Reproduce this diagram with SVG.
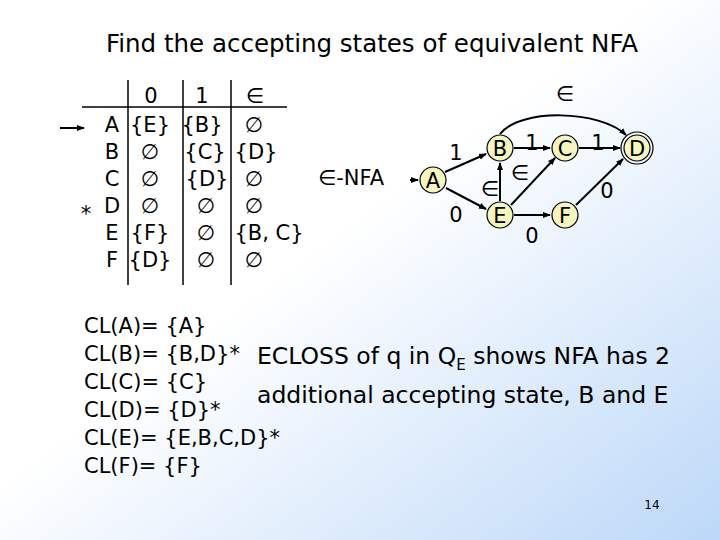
<svg xmlns="http://www.w3.org/2000/svg" width="720" height="540" viewBox="0 0 720 540">
<defs>
<linearGradient id="bg" x1="0" y1="0" x2="1" y2="1"><stop offset="0" stop-color="#ffffff"/><stop offset="0.45" stop-color="#ffffff"/><stop offset="1" stop-color="#bcd8f8"/></linearGradient>
<marker id="ar" markerWidth="8" markerHeight="8" refX="7" refY="4" orient="auto" markerUnits="userSpaceOnUse"><path d="M0,1 L8,4 L0,7 z" fill="#000"/></marker>
<style>
text{font-family:"DejaVu Sans",Verdana,sans-serif;fill:#000}
.t{font-size:21px}
.b{font-size:23.5px}
.ln{stroke:#000;stroke-width:1.5;fill:none}
.e{stroke:#000;stroke-width:2;fill:none;marker-end:url(#ar)}
.n{fill:#f5f5c0;stroke:#000;stroke-width:1.2}
</style>
</defs>
<rect width="720" height="540" fill="url(#bg)"/>
<text x="372" y="52" class="t" font-size="24.5" text-anchor="middle" style="font-size:24.5px">Find the accepting states of equivalent NFA</text>
<g id="table">
<line class="ln" x1="82" y1="107" x2="287" y2="107"/>
<line class="ln" x1="128" y1="80" x2="128" y2="285"/>
<line class="ln" x1="183" y1="80" x2="183" y2="285"/>
<line class="ln" x1="231" y1="80" x2="231" y2="285"/>
<line x1="60" y1="128" x2="84" y2="128" stroke="#000" stroke-width="2" marker-end="url(#ar)"/>
<g class="t" text-anchor="middle">
<text x="151" y="103">0</text><text x="202" y="103">1</text><text x="255" y="103">∈</text>
<text x="112" y="132">A</text><text x="150" y="132">{E}</text><text x="202" y="132">{B}</text><text x="254" y="132">∅</text>
<text x="112" y="159">B</text><text x="150" y="159">∅</text><text x="205" y="159">{C}</text><text x="256" y="159">{D}</text>
<text x="112" y="186">C</text><text x="150" y="186">∅</text><text x="207" y="186">{D}</text><text x="254" y="186">∅</text>
<text x="86" y="221">*</text>
<text x="112" y="213">D</text><text x="150" y="213">∅</text><text x="206" y="213">∅</text><text x="254" y="213">∅</text>
<text x="112" y="240">E</text><text x="150" y="240">{F}</text><text x="206" y="240">∅</text><text x="269" y="240">{B, C}</text>
<text x="112" y="267">F</text><text x="150" y="267">{D}</text><text x="206" y="267">∅</text><text x="254" y="267">∅</text>
</g>
<text x="318" y="185" class="t">∈-NFA</text>
</g>
<g id="connectors">
<line class="e" x1="410" y1="180" x2="418" y2="180"/>
<path class="e" d="M445,172 L486,154"/>
<path class="e" d="M446,188 L486,209"/>
<path class="e" d="M514,148 L550,148"/>
<path class="e" d="M579,148 L620,148"/>
<path class="e" d="M500,201 L500,163"/>
<path class="e" d="M511,205 L555,158"/>
<path class="e" d="M514,215 L550,215"/>
<path class="e" d="M576,205 L623,159"/>
<path class="e" d="M500,134 C520,108 600,110 626,135"/>
<g class="t" text-anchor="middle">
<text x="456" y="160">1</text><text x="456" y="222">0</text>
<text x="532" y="150">1</text><text x="598" y="150">1</text>
<text x="490" y="196">∈</text><text x="520" y="180">∈</text>
<text x="565" y="101">∈</text>
<text x="607" y="198">0</text><text x="532" y="243">0</text>
</g>
</g>
<g id="A"><ellipse class="n" cx="433" cy="180" rx="13" ry="13"/><text x="433" y="188" class="t" text-anchor="middle">A</text></g>
<g id="B"><ellipse class="n" cx="500" cy="148" rx="13" ry="13"/><text x="500" y="156" class="t" text-anchor="middle">B</text></g>
<g id="C"><ellipse class="n" cx="565" cy="148" rx="13" ry="13"/><text x="565" y="156" class="t" text-anchor="middle">C</text></g>
<g id="D"><circle cx="637" cy="148" r="16" fill="none" stroke="#000" stroke-width="1.2"/><ellipse class="n" cx="637" cy="148" rx="13" ry="13"/><text x="637" y="156" class="t" text-anchor="middle">D</text></g>
<g id="E"><ellipse class="n" cx="500" cy="215" rx="13" ry="13"/><text x="500" y="223" class="t" text-anchor="middle">E</text></g>
<g id="F"><ellipse class="n" cx="565" cy="215" rx="13" ry="13"/><text x="565" y="223" class="t" text-anchor="middle">F</text></g>
<g id="closures" class="t">
<text x="84" y="333">CL(A)= {A}</text>
<text x="84" y="361">CL(B)= {B,D}*</text>
<text x="84" y="389">CL(C)= {C}</text>
<text x="84" y="417">CL(D)= {D}*</text>
<text x="84" y="445">CL(E)= {E,B,C,D}*</text>
<text x="84" y="473">CL(F)= {F}</text>
</g>
<text x="257" y="364" class="b">ECLOSS of q in Q<tspan font-size="15" dy="6">E</tspan><tspan dy="-6"> shows NFA has 2</tspan></text>
<text x="257" y="403" class="b">additional accepting state, B and E</text>
<text x="652" y="509" font-family="Liberation Serif,serif" font-size="12" text-anchor="middle">14</text>
</svg>
